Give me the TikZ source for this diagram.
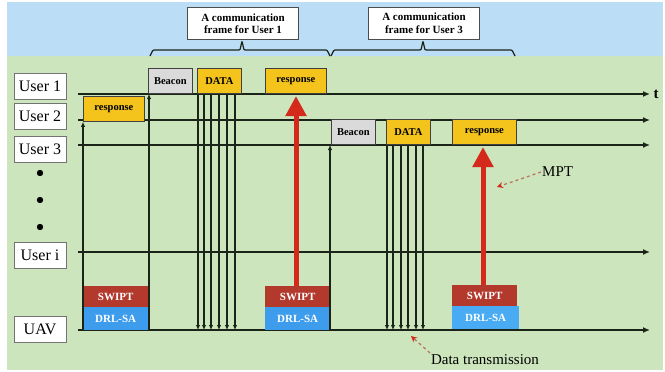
\documentclass[tikz,border=0pt]{standalone}
\usepackage{fontspec}
\setmainfont{Liberation Serif}
\usetikzlibrary{arrows.meta,calc}
\definecolor{skybg}{HTML}{BCDDF6}
\definecolor{fieldbg}{HTML}{CCE5BC}
\definecolor{slotyel}{HTML}{F4C41C}
\definecolor{slotgray}{HTML}{DADADA}
\definecolor{swiptred}{HTML}{B3392D}
\definecolor{drlblue}{HTML}{3D9CEB}
\definecolor{drlblueb}{HTML}{4AABF5}
\definecolor{mptred}{HTML}{D32A1C}
\definecolor{notered}{HTML}{B8705C}
\definecolor{inkline}{HTML}{1A2418}
\tikzset{
  userlbl/.style={draw=black!55, line width=0.8pt, fill=white, inner sep=0pt, minimum width=52pt, minimum height=26pt, font=\fontsize{16}{17}\selectfont},
  slot/.style={draw=black!75, line width=0.8pt, inner sep=0pt, minimum height=25pt, font=\bfseries\fontsize{10.5}{11}\selectfont, anchor=south west},
  yslot/.style={slot, fill=slotyel},
  gslot/.style={slot, fill=slotgray},
  swbox/.style={fill=swiptred, text=white, inner sep=0pt, minimum width=65pt, minimum height=21pt, font=\bfseries\fontsize{11}{12}\selectfont, anchor=north west},
  drlbox/.style={fill=drlblue, text=white, inner sep=0pt, minimum width=65pt, minimum height=23pt, font=\bfseries\fontsize{11}{12}\selectfont, anchor=north west},
  timeline/.style={draw=inkline, line width=1.3pt, -{Latex[length=7pt,width=6pt]}},
  upline/.style={draw=inkline, line width=1.1pt, -{Latex[length=5pt,width=4.5pt]}},
  dataline/.style={draw=inkline, line width=1.1pt, -{Latex[length=5pt,width=4.5pt]}},
  powerarrow/.style={draw=mptred, line width=5pt, -{Triangle[length=20pt,width=20pt]}},
  framebox/.style={draw=black!70, line width=0.8pt, fill=white, inner sep=2pt, align=center, minimum width=111pt, minimum height=32pt, font=\bfseries\fontsize{11}{12.5}\selectfont},
  brace/.style={draw=inkline, line width=1.2pt, rounded corners=1pt},
  note/.style={draw=notered, line width=1.2pt, dashed, -{Stealth[length=6pt,width=6pt,color=mptred]}},
  notetext/.style={font=\fontsize{15}{16}\selectfont, inner sep=1pt}
}
\begin{document}
\begin{tikzpicture}[x=1pt,y=-1pt]
\useasboundingbox (0,0) rectangle (665,372);
% backgrounds
\fill[skybg] (7,2) rectangle (663,56);
\fill[fieldbg] (7,56) rectangle (663,370);

% participant labels
\node[userlbl] (u1) at (40,86.5) {User 1};
\node[userlbl] (u2) at (40,116) {User 2};
\node[userlbl] (u3) at (40,149) {User 3};
\node[userlbl] (ui) at (40,255) {User i};
\node[userlbl] (uav) at (40,329.5) {UAV};
\foreach \yy/\nm in {173/d1,200/d2,227/d3}
  \fill (40,\yy) circle (3.2pt) node (\nm) {};

% time lines
\coordinate (l1s) at (78,94);   \coordinate (l1e) at (650,94);
\coordinate (l2s) at (78,120);  \coordinate (l2e) at (650,120);
\coordinate (l3s) at (78,145);  \coordinate (l3e) at (650,145);
\coordinate (lis) at (78,252);  \coordinate (lie) at (650,252);
\coordinate (uavs) at (78,330); \coordinate (uave) at (650,330);
\draw[timeline] (l1s) -- (l1e) node[right, font=\bfseries\fontsize{15}{16}\selectfont, inner sep=3pt] (tlbl) {t};
\draw[timeline] (l2s) -- (l2e);
\draw[timeline] (l3s) -- (l3e);
\draw[timeline] (lis) -- (lie);
\draw[timeline] (uavs) -- (uave);

% UAV side: SWIPT / DRL-SA blocks
\node[swbox] (sw0) at (83,286) {SWIPT};
\node[drlbox] (dr0) at (83,307) {DRL-SA};
\node[swbox] (sw1) at (265,286) {SWIPT};
\node[drlbox] (dr1) at (265,307) {DRL-SA};
\node[swbox] (sw3) at (452,285) {SWIPT};
\node[drlbox, fill=drlblueb, minimum width=67pt] (dr3) at (452,306) {DRL-SA};

% slots of the first frame
\node[yslot, minimum width=61pt, anchor=north west] (rsp2) at (83,96) {response};
\node[gslot, minimum width=44pt] (bc1) at (148,94) {Beacon};
\node[yslot, minimum width=44pt] (dt1) at (197,94) {DATA};
\node[yslot, minimum width=61pt] (rsp1) at (265,94) {response};
% slots of the second frame
\node[gslot, minimum width=44pt] (bc3) at (331,145) {Beacon};
\node[yslot, minimum width=44pt] (dt3) at (386,145) {DATA};
\node[yslot, minimum width=64pt] (rsp3) at (452,145) {response};

% uplink pointers from the UAV
\draw[upline] (dr0.south west) coordinate (a0) -- (a0 |- rsp2.south);
\draw[upline] (149,330) coordinate (a1) -- (a1 |- bc1.south);
\draw[upline] (330,330) coordinate (a3) -- (a3 |- bc3.south);

% data transmissions down to the UAV
\foreach \dx in {1,7,14,22,30,38}
  \draw[dataline] ([xshift=\dx pt]dt1.south west) -- ([xshift=\dx pt]dt1.south west |- uavs);
\foreach \dx in {1,7,15,22,30,37}
  \draw[dataline] ([xshift=\dx pt]dt3.south west) -- ([xshift=\dx pt]dt3.south west |- uavs);

% wireless power transfer
\draw[powerarrow] (296,286) -- (296,96);
\draw[powerarrow] (483,285) -- (483,147);

% frame braces
\draw[brace] (150,56) -- (153,50) -- (240,50) -- (242,41) -- (244,50) -- (327,50) -- (330,56);
\draw[brace] (331,56) -- (334,50) -- (421,50) -- (423,41) -- (425,50) -- (512,50) -- (515,56);
\node[framebox] (f1) at (243,23.5) {A communication\\frame for User 1};
\node[framebox] (f3) at (424,23) {A communication\\frame for User 3};

% annotations
\node[notetext, anchor=west] (mpt) at (541,172) {MPT};
\draw[note] (mpt.west) -- (497,187);
\node[notetext] (dtx) at (485,360) {Data transmission};
\draw[note] (430,353) -- (411,336);
\end{tikzpicture}
\end{document}
